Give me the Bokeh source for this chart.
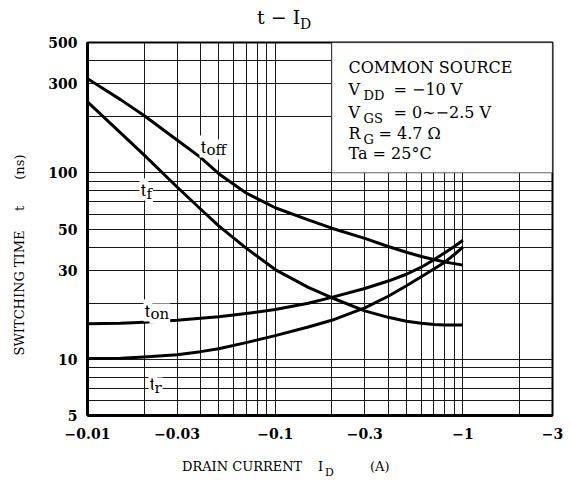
import numpy as np
from bokeh.plotting import figure
from bokeh.models import FixedTicker, Label, BoxAnnotation, Div
from bokeh.layouts import column
from bokeh.embed import file_html
from bokeh.resources import INLINE

# ---- data (drain current in A, switching times in ns) ----
drain_current = [-0.01, -0.015, -0.02, -0.03, -0.04, -0.05, -0.07, -0.1, -0.15,
                 -0.2, -0.3, -0.4, -0.5, -0.6, -0.7, -0.8, -0.9, -1.0]
t_off = [320, 247, 203, 150, 121, 99, 78, 65, 56,
         50.5, 44.5, 40.3, 37.5, 35.6, 34.3, 33.3, 32.6, 32.0]
t_f = [240, 164, 125, 84, 64, 52, 39.5, 30.3, 24.3,
       21.4, 18.2, 16.8, 16.0, 15.6, 15.4, 15.3, 15.3, 15.3]
t_on = [15.5, 15.6, 15.8, 16.2, 16.6, 16.9, 17.6, 18.5, 20.0,
        21.5, 24.0, 26.3, 28.6, 31.2, 34.2, 37.3, 40.3, 43.5]
t_r = [10.1, 10.15, 10.3, 10.6, 11.0, 11.4, 12.3, 13.4, 14.9,
       16.2, 18.9, 21.8, 24.8, 27.7, 30.5, 33.2, 36.5, 40.0]

x_tick_values = [0.01, 0.03, 0.1, 0.3, 1, 3]
x_tick_labels = ["\u22120.01", "\u22120.03", "\u22120.1", "\u22120.3", "\u22121", "\u22123"]
y_tick_values = [5, 10, 30, 50, 100, 300, 500]
y_tick_labels = ["5", "10", "30", "50", "100", "300", "500"]
x_grid_values = [0.01, 0.02, 0.03, 0.04, 0.05, 0.06, 0.07, 0.08, 0.09,
                 0.1, 0.2, 0.3, 0.4, 0.5, 0.6, 0.7, 0.8, 0.9, 1, 2, 3]
y_grid_values = [5, 6, 7, 8, 9, 10, 20, 30, 40, 50, 60, 70, 80, 90,
                 100, 200, 300, 400, 500]

FONT = "DejaVu Serif"
FRAME_LEFT = 87   # page px of frame left edge
FRAME_TOP = 42    # page px of frame top edge
PAGE_LEFT = 8

x_abs = np.abs(np.array(drain_current))

p = figure(frame_width=465, frame_height=373,
           min_border_left=79, min_border_right=11,
           min_border_top=8, min_border_bottom=30,
           x_axis_type="log", y_axis_type="log",
           x_range=(0.01, 3), y_range=(5, 500),
           output_backend="svg", toolbar_location=None, title=None,
           margin=0)

p.background_fill_color = "white"
p.border_fill_color = "white"
p.outline_line_color = "black"
p.outline_line_width = 2

# grids
p.xgrid.ticker = FixedTicker(ticks=x_grid_values)
p.ygrid.ticker = FixedTicker(ticks=y_grid_values)
for g in (p.xgrid, p.ygrid):
    g.grid_line_color = "#1a1a1a"
    g.grid_line_width = 1
    g.grid_line_alpha = 1.0

# axes
p.xaxis.ticker = FixedTicker(ticks=x_tick_values)
p.yaxis.ticker = FixedTicker(ticks=y_tick_values)
p.xaxis.major_label_overrides = {float(v): s for v, s in zip(x_tick_values, x_tick_labels)}
p.yaxis.major_label_overrides = {float(v): s for v, s in zip(y_tick_values, y_tick_labels)}
for ax in (p.xaxis, p.yaxis):
    ax.major_tick_line_color = None
    ax.minor_tick_line_color = None
    ax.axis_line_color = "black"
    ax.axis_line_width = 3
    ax.major_label_text_font = FONT
    ax.major_label_text_font_size = "14px"
    ax.major_label_text_font_style = "bold"
    ax.major_label_text_color = "black"
p.xaxis.major_label_standoff = 6
p.yaxis.major_label_standoff = 4

p.yaxis.axis_label = ("SWITCHING TIME\u2003\u2002t\u2003\u2003(ns)"
                      "\u2003\u2003\u2003\u2003")
p.yaxis.axis_label_text_font = FONT
p.yaxis.axis_label_text_font_size = "13px"
p.yaxis.axis_label_text_font_style = "normal"
p.yaxis.axis_label_text_color = "black"
p.yaxis.axis_label_standoff = 18

# curves
for series in (t_off, t_f, t_on, t_r):
    p.line(x_abs, series, line_color="black", line_width=3, line_join="round")

# conditions box (covers the grid)
p.add_layout(BoxAnnotation(left=0.2, right=3, bottom=100, top=500,
                           fill_color="white", fill_alpha=1.0,
                           line_color="black", line_width=1.5))


def frame_text(txt, px, py, size, style="normal", bg=False):
    lab = Label(x=0.01, y=500, x_offset=px - FRAME_LEFT, y_offset=FRAME_TOP - py,
                text=txt, text_font=FONT, text_font_size=f"{size}px",
                text_font_style=style, text_color="black",
                text_baseline="alphabetic", text_align="left")
    if bg:
        lab.background_fill_color = "white"
        lab.background_fill_alpha = 1.0
        lab.padding = 1
    p.add_layout(lab)


# conditions text
frame_text("COMMON SOURCE", 348, 67, 16)
frame_text("V", 348, 89, 16)
frame_text("DD", 363, 95, 13)
frame_text("= \u221210 V", 393, 89, 16)
frame_text("V", 348, 112, 16)
frame_text("GS", 363, 118, 13)
frame_text("= 0\u223c\u22122.5 V", 393, 112, 16)
frame_text("R", 348, 133, 16)
frame_text("G", 363, 139, 13)
frame_text("= 4.7 \u03a9", 378, 133, 16)
frame_text("Ta = 25\u00b0C", 348, 153, 16)

# curve labels
frame_text("t", 199, 146, 17, bg=True)
frame_text("off", 205, 149, 15, bg=True)
frame_text("t", 139, 189, 17, bg=True)
frame_text("f", 145, 193, 15, bg=True)
frame_text("t", 143, 310, 17, bg=True)
frame_text("on", 149, 313, 15, bg=True)
frame_text("t", 148, 383, 17, bg=True)
frame_text("r", 153, 387, 15, bg=True)


def span(txt, px, top, size):
    return (f'<span style="position:absolute;left:{px - PAGE_LEFT}px;top:{top}px;'
            f"font-family:'{FONT}';font-size:{size}px;line-height:1;"
            f'white-space:pre;color:black;">{txt}</span>')


# baseline ~0.846em below a line-height:1 box top
title_html = ('<div style="position:relative;width:555px;height:26px;">'
              + span("t \u2212 I", 257, 0, 19)
              + span("D", 300, 9, 14)
              + '</div>')
xlabel_html = ('<div style="position:relative;width:555px;height:29px;">'
               + span("DRAIN CURRENT", 182, 15, 13)
               + span("I", 318, 15, 13)
               + span("D", 325, 22, 11)
               + span("(A)", 370, 15, 13)
               + '</div>')

title_div = Div(text=title_html, width=555, height=26, margin=0)
xlabel_div = Div(text=xlabel_html, width=555, height=29, margin=0)

layout = column(title_div, p, xlabel_div, spacing=0, margin=(8, 0, 0, 8))

open("out.html", "w").write(file_html(layout, INLINE))
